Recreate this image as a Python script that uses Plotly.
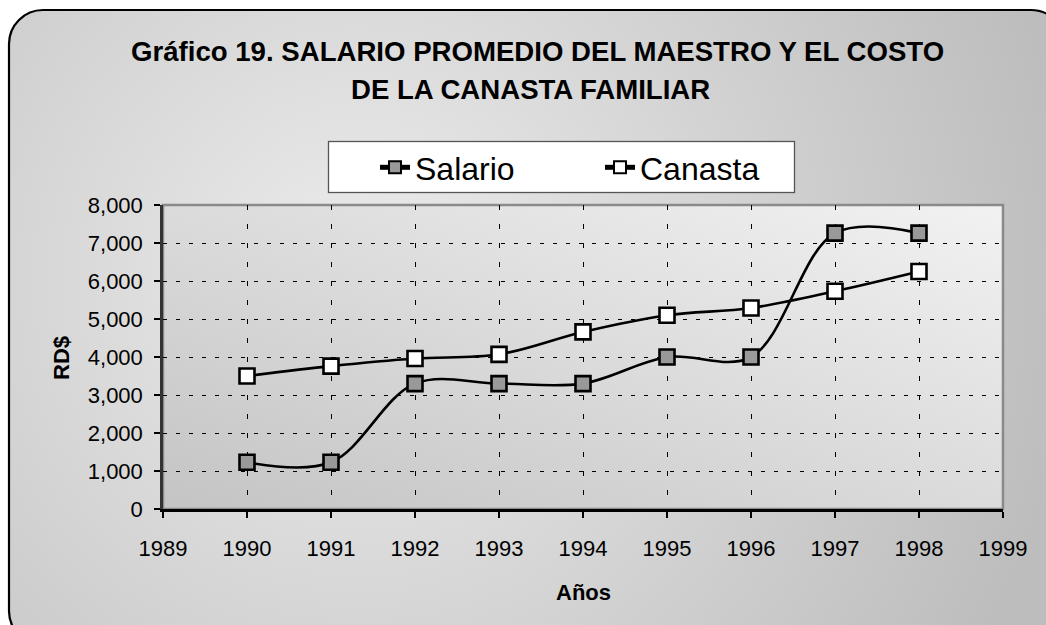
import urllib.parse
import plotly.graph_objects as go

# ---- data ----
years = [1990, 1991, 1992, 1993, 1994, 1995, 1996, 1997, 1998]
salario = [1230, 1230, 3300, 3300, 3300, 4000, 4000, 7260, 7260]
canasta = [3500, 3760, 3960, 4070, 4660, 5100, 5290, 5730, 6250]
x_ticks = list(range(1989, 2000))
y_ticks = list(range(0, 8001, 1000))

title_line1 = "Gráfico 19. SALARIO PROMEDIO DEL MAESTRO Y EL COSTO"
title_line2 = "DE LA CANASTA FAMILIAR"
y_title = "RD$"
x_title = "Años"

# ---- layout geometry ----
W, H = 1046, 625
ML, MR, MT, MB = 163, 43, 205, 116
PW, PH = W - ML - MR, H - MT - MB
FONT = "Liberation Sans, Arial, sans-serif"


def px_x(px):
    return (px - ML) / PW


def px_y(py):
    return (H - MB - py) / PH


svg = f"""<svg xmlns='http://www.w3.org/2000/svg' width='{W}' height='{H}' viewBox='0 0 {W} {H}' preserveAspectRatio='none'>
<defs>
<radialGradient id='g1' cx='360' cy='280' r='720' gradientUnits='userSpaceOnUse'>
<stop offset='0' stop-color='#ececec'/><stop offset='0.55' stop-color='#d2d2d2'/><stop offset='1' stop-color='#bdbdbd'/></radialGradient>
<linearGradient id='g2' x1='0' y1='1' x2='1' y2='0'>
<stop offset='0' stop-color='#c4c4c4'/><stop offset='1' stop-color='#f2f2f2'/></linearGradient>
</defs>
<rect width='{W}' height='{H}' fill='white'/>
<rect x='9' y='10' width='{W + 10}' height='{H + 10}' rx='34' ry='34' fill='url(#g1)' stroke='black' stroke-width='2.2'/>
<rect x='{ML}' y='{MT}' width='{PW}' height='{PH}' fill='url(#g2)' stroke='#8a8a8a' stroke-width='2.5'/>
<rect x='328.5' y='141.5' width='466' height='51' fill='white' stroke='#555555' stroke-width='1.3'/>
</svg>"""
svg_uri = "data:image/svg+xml;charset=utf-8," + urllib.parse.quote(svg)

fig = go.Figure()
fig.add_trace(go.Scatter(
    x=years, y=salario, name="Salario", mode="lines+markers",
    line=dict(color="black", width=2.6, shape="spline", smoothing=1),
    marker=dict(symbol="square", size=15, color="#999999",
                line=dict(color="black", width=2.6)),
))
fig.add_trace(go.Scatter(
    x=years, y=canasta, name="Canasta", mode="lines+markers",
    line=dict(color="black", width=2.6, shape="spline", smoothing=1),
    marker=dict(symbol="square", size=15, color="white",
                line=dict(color="black", width=2.6)),
))

fig.update_layout(
    width=W, height=H,
    margin=dict(l=ML, r=MR, t=MT, b=MB, pad=0),
    paper_bgcolor="white",
    plot_bgcolor="rgba(0,0,0,0)",
    font=dict(family=FONT, color="black"),
    showlegend=True,
    legend=dict(
        orientation="h", x=px_x(375), y=px_y(140), xanchor="left", yanchor="top",
        bgcolor="rgba(0,0,0,0)", borderwidth=0,
        font=dict(size=32, family=FONT), entrywidth=180, itemsizing="constant",
    ),
    images=[dict(
        source=svg_uri, xref="paper", yref="paper",
        x=-ML / PW, y=1 + MT / PH, sizex=W / PW, sizey=H / PH,
        xanchor="left", yanchor="top", sizing="stretch", layer="below",
    )],
    annotations=[
        dict(text=f"<b>{title_line1}</b>", x=px_x(537), y=px_y(52), xref="paper", yref="paper",
             showarrow=False, font=dict(size=27.6, family=FONT), xanchor="center", yanchor="middle"),
        dict(text=f"<b>{title_line2}</b>", x=px_x(530), y=px_y(90), xref="paper", yref="paper",
             showarrow=False, font=dict(size=27.6, family=FONT), xanchor="center", yanchor="middle"),
        dict(text=f"<b>{y_title}</b>", x=px_x(61), y=px_y(358), xref="paper", yref="paper",
             showarrow=False, textangle=-90, font=dict(size=22, family=FONT),
             xanchor="center", yanchor="middle"),
        dict(text=f"<b>{x_title}</b>", x=px_x(583), y=px_y(592), xref="paper", yref="paper",
             showarrow=False, font=dict(size=22, family=FONT), xanchor="center", yanchor="middle"),
    ],
)

fig.update_xaxes(
    range=[1989, 1999], tickmode="array", tickvals=x_ticks, ticktext=[str(v) for v in x_ticks],
    showgrid=True, gridcolor="black", gridwidth=1, griddash="5px,14px",
    showline=True, linecolor="black", linewidth=2.5,
    ticks="outside", ticklen=6, tickwidth=1.5, tickcolor="black",
    tickfont=dict(size=22, family=FONT), ticklabelstandoff=12, zeroline=False,
)
fig.update_yaxes(
    range=[0, 8000], tickmode="array", tickvals=y_ticks,
    ticktext=[f"{v:,}" for v in y_ticks],
    showgrid=True, gridcolor="black", gridwidth=1, griddash="4px,9px",
    showline=True, linecolor="#333333", linewidth=2.5,
    ticks="outside", ticklen=6, tickwidth=1.5, tickcolor="black",
    tickfont=dict(size=22, family=FONT), ticklabelstandoff=7, zeroline=False,
)

fig.write_html("out.html", config={"displayModeBar": False},
               post_script="document.body.style.margin='0';")
